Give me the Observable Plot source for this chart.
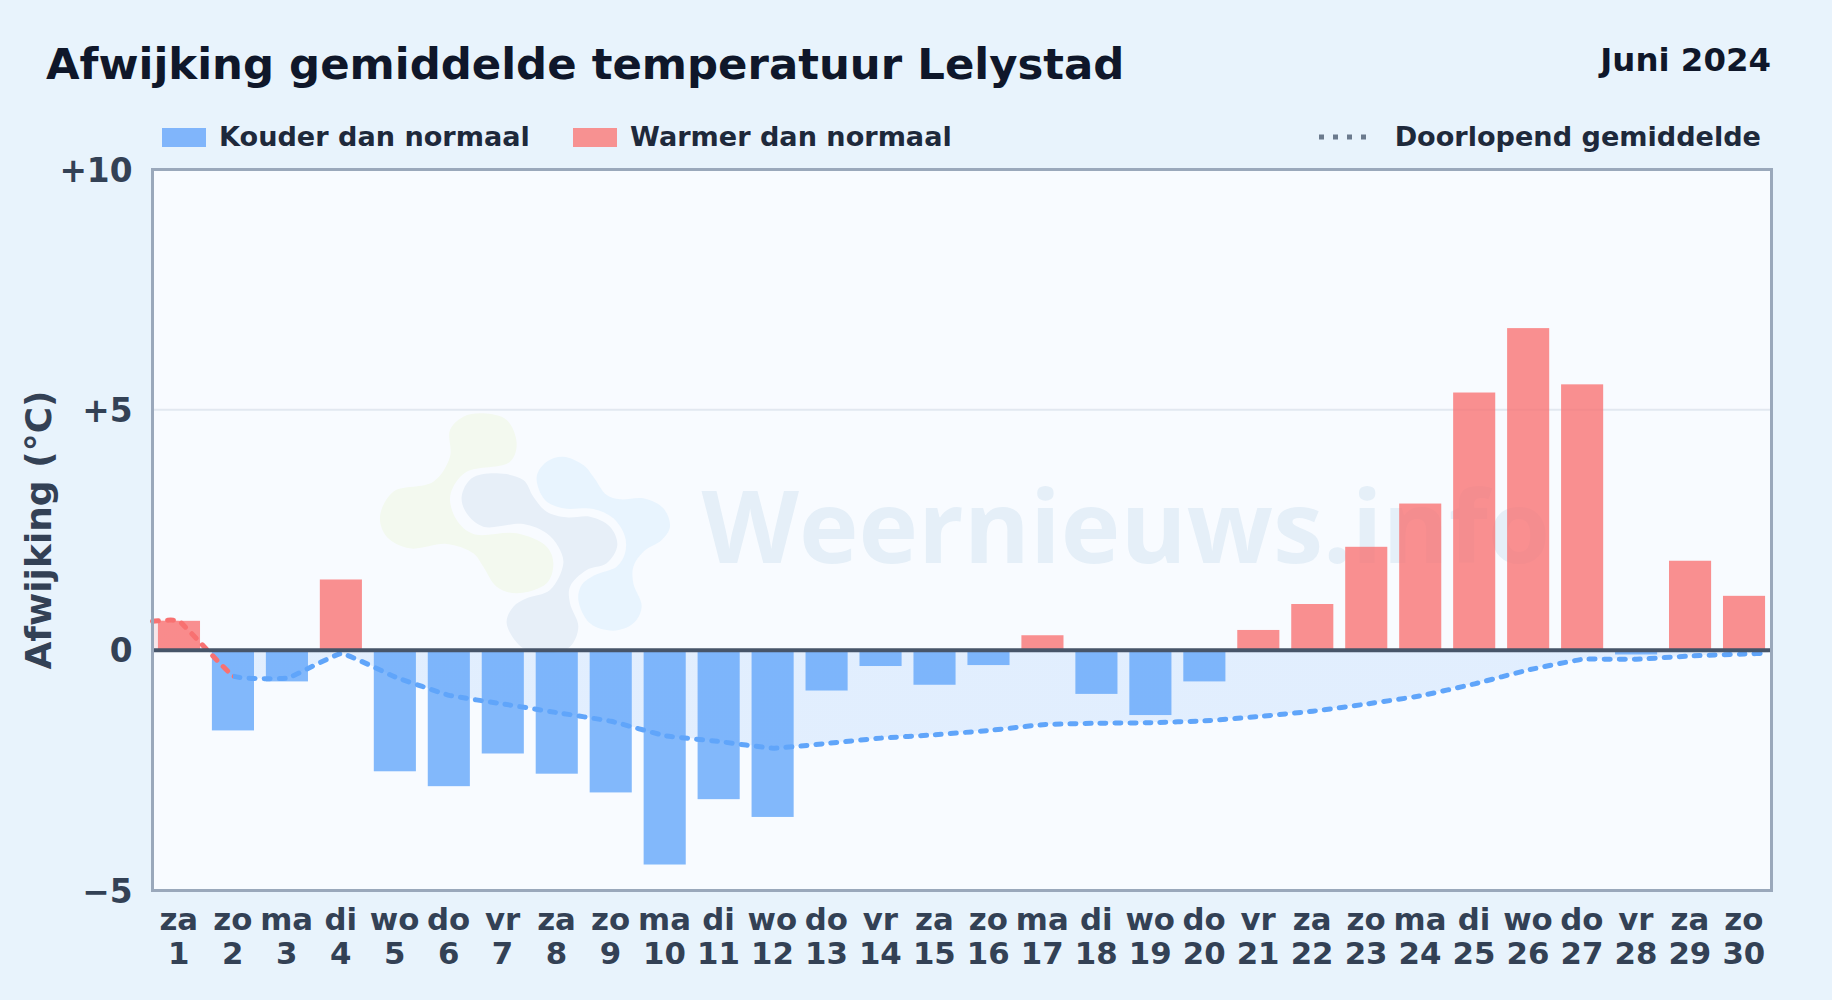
<!DOCTYPE html>
<html lang="nl"><head><meta charset="utf-8">
<script src="https://cdn.jsdelivr.net/npm/d3@7"></script>
<script src="https://cdn.jsdelivr.net/npm/@observablehq/plot@0.6"></script>
<style>
html,body{margin:0;padding:0;width:1832px;height:1000px;overflow:hidden;background:#e8f3fc;font-family:"DejaVu Sans",sans-serif;font-weight:700}
#head{position:relative;height:150px}
#title{position:absolute;left:46px;top:38px;font-size:43.4px;line-height:52px;color:#0f172a;white-space:nowrap}
#month{position:absolute;right:61px;top:40px;font-size:32.4px;line-height:40px;color:#0f172a}
.lg{position:absolute;top:118px;font-size:27.1px;line-height:38px;height:38px;color:#1e293b;white-space:nowrap;display:flex;align-items:center}
.sw{display:inline-block;width:44px;height:19px;margin-right:13px}
svg.plot{display:block}
</style></head><body>
<div id="head">
<div id="title">Afwijking gemiddelde temperatuur Lelystad</div>
<div id="month">Juni 2024</div>
<div class="lg" style="left:162px"><span class="sw" style="background:#80b5fb"></span>Kouder dan normaal</div>
<div class="lg" style="left:573px"><span class="sw" style="background:#f79191"></span>Warmer dan normaal</div>
<div class="lg" style="right:71px"><svg width="56" height="6" style="margin-right:20px"><line x1="0" x2="56" y1="3" y2="3" stroke="#6b7a8d" stroke-width="5" stroke-dasharray="5 9"/></svg>Doorlopend gemiddelde</div>
</div>
<div id="chart"></div>
<script>
const days = d3.range(1, 31);
const weekdays = ["za","zo","ma","di","wo","do","vr","za","zo","ma","di","wo","do","vr","za","zo","ma","di","wo","do","vr","za","zo","ma","di","wo","do","vr","za","zo"];
const anomaly = [0.6,-1.68,-0.66,1.46,-2.53,-2.84,-2.16,-2.58,-2.97,-4.47,-3.11,-3.48,-0.85,-0.34,-0.73,-0.32,0.3,-0.92,-1.36,-0.66,0.41,0.95,2.14,3.04,5.35,6.69,5.52,-0.1,1.85,1.12];
const runningDays = [0.5,1,2,3,4,5,6,7,8,9,10,11,12,13,14,15,16,17,18,19,20,21,22,23,24,25,26,27,28,29,30,30.45];
const runningMean = [0.6,0.6,-0.54,-0.58,-0.07,-0.56,-0.94,-1.12,-1.3,-1.48,-1.78,-1.9,-2.04,-1.94,-1.83,-1.76,-1.67,-1.55,-1.52,-1.51,-1.47,-1.38,-1.27,-1.12,-0.95,-0.7,-0.41,-0.19,-0.19,-0.12,-0.08,-0.06];
const yTicks = [-5,0,5,10];
const watermark = "Weernieuws.info";
const axisTitle = "Afwijking (°C)";

const bars = days.map((d,i)=>({day:d, value:anomaly[i]}));
const running = runningDays.map((d,i)=>({day:d, value:runningMean[i]}));
const dayLabel = d => weekdays[d-1] + "\n" + d;
const svgNS = "http://www.w3.org/2000/svg";

// decorative logo behind the data, in page-pixel outline points
const logoBlobs = [
 {fill:"#f3f9ef", pts:[[300,120],[340,80],[400,70],[470,90],[500,160],[480,215],[350,245],[310,290],[300,330],[320,390],[370,432],[500,430],[590,470],[610,520],[590,580],[500,610],[440,590],[400,530],[370,490],[290,462],[180,475],[110,440],[90,380],[130,305],[250,275],[300,200]]},
 {fill:"#e7eff8", pts:[[335,320],[365,265],[440,250],[520,270],[550,320],[590,365],[650,382],[720,380],[780,410],[802,465],[770,520],[710,540],[660,590],[660,640],[685,710],[660,770],[600,790],[520,775],[470,700],[490,650],[530,625],[600,600],[640,520],[625,470],[590,430],[520,402],[400,410],[350,370]]},
 {fill:"#e8f4fe", pts:[[560,260],[590,215],[640,200],[700,225],[730,260],[770,315],[810,328],[880,325],[940,355],[960,410],[935,450],[880,485],[850,530],[850,580],[875,650],[850,700],[790,722],[720,700],[685,630],[695,585],[735,555],[800,530],[825,490],[825,440],[790,385],[730,357],[640,355],[585,330]]}
];
function logoMark(){
  const g = document.createElementNS(svgNS,"g");
  const path = d3.line().curve(d3.curveCatmullRomClosed.alpha(0.5));
  for (const b of logoBlobs){
    const p = document.createElementNS(svgNS,"path");
    p.setAttribute("d", path(b.pts.map(([x,y])=>[350+x/3, 390-150+y/3])));
    p.setAttribute("fill", b.fill);
    g.appendChild(p);
  }
  return g;
}
function hardStop(id, attrs, first, second){
  const lg = document.createElementNS(svgNS,"linearGradient");
  lg.setAttribute("id",id); lg.setAttribute("gradientUnits","userSpaceOnUse");
  for (const k in attrs) lg.setAttribute(k,attrs[k]);
  for (const [o,c] of [[0,first],[0.5,first],[0.5,second],[1,second]]){
    const s = document.createElementNS(svgNS,"stop");
    s.setAttribute("offset",o); s.setAttribute("stop-color",c); lg.appendChild(s);
  }
  return lg;
}
function gradients(index, scales){
  const defs = document.createElementNS(svgNS,"defs");
  const y0 = scales.y(0), x2 = scales.x(2);
  defs.appendChild(hardStop("areaGrad",{x1:0,x2:0,y1:y0-1,y2:y0+1},"#f87171","#60a5fa"));
  defs.appendChild(hardStop("lineGrad",{x1:x2-1,x2:x2+1,y1:0,y2:0},"#f87171","#60a5fa"));
  return defs;
}

const chart = Plot.plot({
  width:1832, height:850,
  marginLeft:152, marginRight:61, marginTop:19, marginBottom:110,
  style:{fontFamily:"'DejaVu Sans',sans-serif",fontWeight:700,background:"transparent",overflow:"visible"},
  x:{domain:[0.5,30.5]},
  y:{domain:[-5,10]},
  marks:[
    Plot.frame({fill:"#f8fbff",stroke:null}),
    logoMark,
    gradients,
    Plot.text([watermark],{frameAnchor:"left",dx:549,dy:1,fontSize:100.8,fontFamily:"'Open Sans',sans-serif",fontWeight:700,fill:"#0a65a7",fillOpacity:0.08,textAnchor:"start"}),
    Plot.ruleY([5],{stroke:"#e2e8f0",strokeWidth:2}),
    Plot.areaY(running,{x:"day",y1:0,y2:"value",curve:"cardinal",tension:0.7,fill:"url(#areaGrad)",fillOpacity:0.15}),
    Plot.rectY(bars,{x1:d=>d.day-0.39,x2:d=>d.day+0.39,y1:0,y2:"value",fill:d=>d.value<0?"#60a5fa":"#f87171",fillOpacity:0.78}),
    Plot.line(running,{x:"day",y:"value",curve:"cardinal",tension:0.7,stroke:"url(#lineGrad)",strokeWidth:5,strokeDasharray:"6 9",strokeLinecap:"round"}),
    Plot.ruleY([0],{stroke:"#475569",strokeWidth:4}),
    Plot.frame({stroke:"#9aa8bb",strokeWidth:3,fill:"none"}),
    Plot.axisY({ticks:yTicks,tickSize:0,tickPadding:20,fontSize:32.8,fill:"#334155",label:null,dy:1.5,tickFormat:d=>d>0?"+"+d:d<0?"\u2212"+(-d):"0"}),
    Plot.text([axisTitle],{frameAnchor:"left",dx:-113,rotate:-90,fontSize:36,fill:"#334155",textAnchor:"middle"}),
    Plot.axisX({ticks:days,tickSize:0,tickPadding:15,fontSize:30.8,fill:"#334155",label:null,lineHeight:1.104,dx:-0.7,tickFormat:dayLabel,textOverflow:null})
  ]
});
document.getElementById("chart").appendChild(chart);
</script>
</body></html>
